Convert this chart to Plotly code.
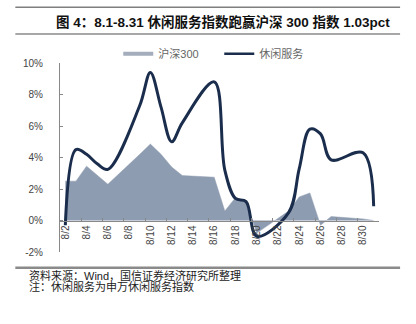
import plotly.graph_objects as go

# ---- data ----
dates = ["8/2", "8/3", "8/4", "8/5", "8/6", "8/7", "8/8", "8/9", "8/10", "8/11",
         "8/12", "8/13", "8/14", "8/15", "8/16", "8/17", "8/18", "8/19", "8/20", "8/21",
         "8/22", "8/23", "8/24", "8/25", "8/26", "8/27", "8/28", "8/29", "8/30", "8/31"]
# 沪深300 (%), None = non-trading day
hs300 = [2.5, 2.5, 3.45, 2.9, 2.3, None, None, 4.2, 4.85, 4.2,
         3.4, 2.85, None, None, 2.75, 0.6, 1.45, 1.2, -0.8, None,
         None, 0.6, 1.5, 1.75, -0.3, 0.25, None, None, 0.1, 0.0]
# 休闲服务 (%)
leisure = [-0.3, 4.5, 4.2, 3.6, 3.25, None, None, 7.3, 9.4, 7.2,
           5.0, 6.2, None, None, 8.8, 3.2, 1.4, 1.2, -1.0, None,
           None, 0.5, 3.3, 5.8, 5.5, 3.85, None, None, 4.3, 0.9]
y_ticks = [-2, 0, 2, 4, 6, 8, 10]
y_tick_text = [f"{v}%" for v in y_ticks]
series_names = ["沪深300", "休闲服务"]

title_text = "图 4：8.1-8.31 休闲服务指数跑赢沪深 300 指数 1.03pct"
source_text = "资料来源：Wind，国信证券经济研究所整理"
note_text = "注：休闲服务为申万休闲服务指数"

AREA = "#8e9cb1"
LINE = "#1b2d4c"
W, H = 416, 324
L, R, T, B = 59.7, 378.9, 63.3, 252.3
CJK = "Liberation Sans, Arial, Noto Sans CJK SC, sans-serif"


def px_x(px):
    return (px - L) / (R - L)


def px_y(py):
    return (B - py) / (B - T)


fig = go.Figure()
fig.add_trace(go.Scatter(x=dates, y=hs300, mode="lines", fill="tozeroy",
                         fillcolor=AREA, line=dict(color=AREA, width=0.5),
                         connectgaps=True, showlegend=False, hoverinfo="skip"))
fig.add_trace(go.Scatter(x=dates, y=leisure, mode="lines",
                         line=dict(color=LINE, width=3, shape="spline", smoothing=1.0),
                         connectgaps=True, showlegend=False, hoverinfo="skip"))
# legend entries
fig.add_trace(go.Scatter(x=[None], y=[None], mode="lines", name=series_names[0],
                         line=dict(color="#a3adbb", width=4)))
fig.add_trace(go.Scatter(x=[None], y=[None], mode="lines", name=series_names[1],
                         line=dict(color=LINE, width=2.5)))

shapes = []
for py, wdt, col in [(7.5, 1.5, "#7f7f7f"), (34.3, 1.5, "#8a8a8a"), (268, 2.5, "#8a8a8a")]:
    shapes.append(dict(type="line", xref="paper", yref="paper",
                       x0=px_x(15), x1=px_x(400), y0=px_y(py), y1=px_y(py),
                       line=dict(color=col, width=wdt)))

annotations = [
    dict(text="<b>" + title_text + "</b>", xref="paper", yref="paper",
         x=px_x(392), y=px_y(22), xanchor="right", yanchor="middle", align="left",
         showarrow=False, font=dict(family=CJK, size=13.5, color="#111111")),
    dict(text=source_text, xref="paper", yref="paper", x=px_x(27), y=px_y(276),
         xanchor="left", yanchor="middle", align="left", showarrow=False,
         font=dict(family=CJK, size=11, color="#222222")),
    dict(text=note_text, xref="paper", yref="paper", x=px_x(27), y=px_y(287),
         xanchor="left", yanchor="middle", align="left", showarrow=False,
         font=dict(family=CJK, size=11, color="#222222")),
]

fig.update_layout(
    width=W, height=H,
    margin=dict(l=L, r=W - R, t=T, b=H - B, pad=0),
    paper_bgcolor="white", plot_bgcolor="white",
    shapes=shapes, annotations=annotations,
    showlegend=True,
    legend=dict(orientation="h", xref="paper", yref="paper",
                x=px_x(118), y=px_y(54), xanchor="left", yanchor="middle",
                font=dict(family=CJK, size=11, color="#666666"),
                bgcolor="rgba(0,0,0,0)", itemwidth=30, entrywidth=56,
                tracegroupgap=0),
    xaxis=dict(type="category", range=[-0.5, 29.5], anchor="free",
               position=2 / 12, tickmode="linear", tick0=0, dtick=2,
               tickson="boundaries", ticks="inside", ticklen=3,
               tickcolor="#888888", showline=True, linecolor="#888888",
               linewidth=1, showgrid=False, zeroline=False, tickangle=-90,
               tickfont=dict(family="Liberation Sans, Arial", size=10, color="#444444")),
    yaxis=dict(range=[-2, 10], tickmode="array", tickvals=y_ticks, ticktext=y_tick_text,
               ticks="inside", ticklen=3, tickcolor="#888888",
               showline=True, linecolor="#888888", linewidth=1,
               showgrid=False, zeroline=False, ticklabelstandoff=14,
               tickfont=dict(family="Liberation Sans, Arial", size=10, color="#444444")),
)

fig.write_html("out.html")
